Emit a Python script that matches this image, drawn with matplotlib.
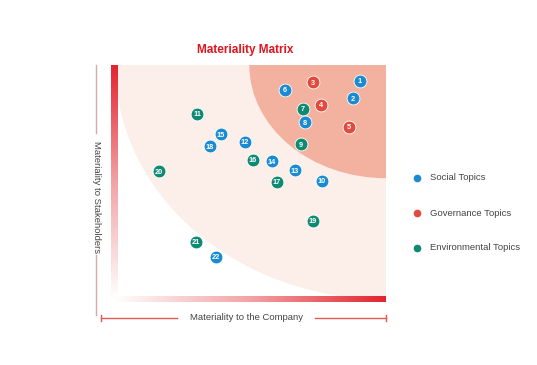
import numpy as np
import matplotlib.pyplot as plt
from matplotlib.patches import Ellipse
from matplotlib.colors import LinearSegmentedColormap
from matplotlib.lines import Line2D

plt.rcParams['font.family'] = ['Liberation Sans', 'DejaVu Sans']

# topic scores (0-1 scale): company (x) and stakeholders (y)
topic_ids = [1, 2, 3, 4, 5, 6, 7, 8, 9, 10, 11,
             12, 13, 14, 15, 16, 17, 18, 19, 20, 21, 22]
company = [0.903, 0.877, 0.728, 0.757, 0.862, 0.623, 0.690, 0.698, 0.683, 0.761, 0.295,
           0.474, 0.660, 0.575, 0.384, 0.504, 0.593, 0.343, 0.728, 0.153, 0.291, 0.366]
stakeholders = [0.931, 0.857, 0.926, 0.827, 0.732, 0.892, 0.810, 0.753, 0.658, 0.498, 0.788,
                0.667, 0.545, 0.584, 0.701, 0.589, 0.494, 0.649, 0.325, 0.541, 0.234, 0.169]
category = ['S', 'S', 'G', 'G', 'G', 'S', 'E', 'S', 'E', 'S', 'E',
            'S', 'S', 'S', 'S', 'E', 'E', 'S', 'E', 'E', 'E', 'S']

cat_names = {'S': 'Social Topics', 'G': 'Governance Topics', 'E': 'Environmental Topics'}
cat_colors = {'S': '#1a8bd3', 'G': '#e04b3d', 'E': '#0e8a72'}

W, H = 537, 365
fig = plt.figure(figsize=(W / 100, H / 100), dpi=100)

def fx(x):
    return x / W

def fy(y):
    return 1 - y / H

ax = fig.add_axes([fx(118), fy(296), 268 / W, 231 / H])
ax.set_xlim(0, 1)
ax.set_ylim(0, 1)
ax.axis('off')

ax.add_patch(Ellipse((1, 1), 2.02, 2.03, facecolor='#fcefe9', edgecolor='none', zorder=0))
ax.add_patch(Ellipse((1, 1), 1.02, 0.98, facecolor='#f3b19f', edgecolor='none', zorder=1))

for xi, yi, c, t in zip(company, stakeholders, category, topic_ids):
    ax.scatter(xi, yi, s=85, color=cat_colors[c], edgecolor='white', linewidth=0.6, zorder=3,
               clip_on=False)
    ax.text(xi, yi, str(t), color='white', fontsize=5.3, fontweight='bold',
            ha='center', va='center_baseline', zorder=4)

# gradient bars along the axes
red_cmap = LinearSegmentedColormap.from_list('redfade', ['#ffffff', '#f2a3a5', '#e3242f'])
grad = np.linspace(0, 1, 256)
axl = fig.add_axes([fx(111), fy(300), 7 / W, 235 / H])
axl.imshow(grad[:, None], aspect='auto', cmap=red_cmap, origin='lower')
axl.axis('off')
axb = fig.add_axes([fx(113), fy(302), 273 / W, 6 / H])
axb.imshow(grad[None, :], aspect='auto', cmap=red_cmap)
axb.axis('off')

# title
fig.text(fx(245), fy(50), 'Materiality Matrix', color='#e0141e', fontsize=8.5,
         fontweight='bold', ha='center', va='center')

# x label with bracket lines
xline_col = '#e25a52'
fig.add_artist(Line2D([fx(101), fx(177)], [fy(318), fy(318)], color=xline_col, lw=1))
fig.add_artist(Line2D([fx(315), fx(386)], [fy(318), fy(318)], color=xline_col, lw=1))
fig.add_artist(Line2D([fx(101), fx(101)], [fy(315), fy(321)], color=xline_col, lw=1))
fig.add_artist(Line2D([fx(386), fx(386)], [fy(315), fy(321)], color=xline_col, lw=1))
fig.text(fx(246), fy(318), 'Materiality to the Company', color='#444444', fontsize=6.8,
         ha='center', va='center')

# y label with bracket lines
yline_col = '#d6aaa5'
fig.add_artist(Line2D([fx(96), fx(96)], [fy(65), fy(133)], color=yline_col, lw=1))
fig.add_artist(Line2D([fx(96), fx(96)], [fy(255), fy(315)], color=yline_col, lw=1))
fig.text(fx(96), fy(197), 'Materiality to Stakeholders', color='#444444', fontsize=6.8,
         rotation=270, ha='center', va='center')

# legend
for key, ly in zip(['S', 'G', 'E'], [178, 213, 248]):
    fig.add_artist(Line2D([fx(417)], [fy(ly)], marker='o', markersize=4.5,
                          color=cat_colors[key], linestyle='none'))
    fig.text(fx(430), fy(ly), cat_names[key], color='#444444', fontsize=6.8,
             ha='left', va='center')

fig.savefig('out.png', dpi=100)
